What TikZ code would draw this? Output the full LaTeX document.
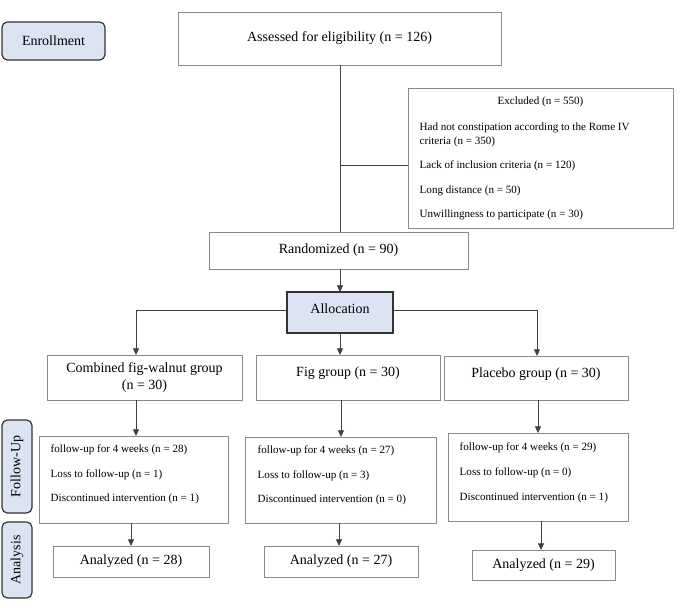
\documentclass[tikz,border=0pt]{standalone}
\usepackage{fontspec}
\setmainfont{Liberation Serif}
\usetikzlibrary{arrows.meta,calc}
\definecolor{lab}{HTML}{DCE3F2}
\definecolor{bd}{HTML}{8A8A8A}
\begin{document}
\begin{tikzpicture}[x=0.75pt,y=-0.75pt,
  box/.style={draw=bd,line width=0.6pt,fill=white,inner sep=0pt},
  side/.style={draw=black!80,line width=0.9pt,rounded corners=4pt,fill=lab,inner sep=0pt},
  big/.style={font=\fontsize{10.5}{13}\selectfont},
  sm/.style={font=\fontsize{8.3}{10}\selectfont,anchor=west},
  ln/.style={draw=black!75,line width=0.6pt},
  ar/.style={ln,-{Triangle[length=5pt,width=4.5pt]}}]
\useasboundingbox (0,0) rectangle (685,607);
% side labels
\draw[side] (2,22) rectangle (105,60);
\node[big] (enr) at (53.5,41) {Enrollment};
\draw[side] (2,420) rectangle (32,513);
\node[big,rotate=90] (fu) at (17,466.5) {Follow-Up};
\draw[side] (2,522) rectangle (32,598);
\node[big,rotate=90] (an) at (17,560) {Analysis};
% top
\draw[box] (178,12) rectangle (501,65);
\node[big] (ass) at (339.5,38.5) {Assessed for eligibility (n = 126)};
\draw[box] (408,88) rectangle (673,228);
\node[sm,anchor=center] (exc) at (540.5,102) {Excluded (n = 550)};
\node[sm,align=left] (e1) at (415,135) {Had not constipation according to the Rome IV\\criteria (n = 350)};
\node[sm] (e2) at (415,166) {Lack of inclusion criteria (n = 120)};
\node[sm] (e3) at (415,191) {Long distance (n = 50)};
\node[sm] (e4) at (415,215) {Unwillingness to participate (n = 30)};
\draw[box] (209,232) rectangle (468,269);
\node[big] (ran) at (338.5,250.5) {Randomized (n = 90)};
\coordinate (a1) at (340,65);
\coordinate (a2) at (340,232);
\coordinate (j) at (340,165);
\coordinate (x1) at (408,165);
\draw[ln] (a1) -- (a2);
\draw[ln] (j) -- (x1);
\draw[fill=lab,draw=black!80,line width=0.9pt] (287,292) rectangle (393,333);
\node[big] (all) at (340,309) {Allocation};
\coordinate (r1) at (340,269);\coordinate (r2) at (340,292);
\draw[ar] (r1) -- (r2);
% groups
\draw[box] (47,355) rectangle (242,400);
\node[big,align=center] (g1) at (144.5,377.5) {Combined fig-walnut group\\(n = 30)};
\draw[box] (256,355) rectangle (440,400);
\node[big] (g2) at (348,373) {Fig group (n = 30)};
\draw[box] (444,356) rectangle (628,400);
\node[big] (g3) at (536,374) {Placebo group (n = 30)};
\coordinate (l1) at (287,310);\coordinate (l2) at (136,310);\coordinate (l3) at (136,355);
\coordinate (m1) at (340,333);\coordinate (m2) at (340,355);
\coordinate (q1) at (393,310);\coordinate (q2) at (537,310);\coordinate (q3) at (537,356);
\draw[ar] (l1) -- (l2) -- (l3);
\draw[ar] (m1) -- (m2);
\draw[ar] (q1) -- (q2) -- (q3);
% follow-up
\draw[box] (39,436) rectangle (228,523);
\node[sm] (f11) at (46,450) {follow-up for 4 weeks (n = 28)};
\node[sm] (f12) at (46,475) {Loss to follow-up (n = 1)};
\node[sm] (f13) at (46,499) {Discontinued intervention (n = 1)};
\draw[box] (245,437) rectangle (436,523);
\node[sm] (f21) at (253,451) {follow-up for 4 weeks (n = 27)};
\node[sm] (f22) at (253,476) {Loss to follow-up (n = 3)};
\node[sm] (f23) at (253,500) {Discontinued intervention (n = 0)};
\draw[box] (448,433) rectangle (628,521);
\node[sm] (f31) at (455,448) {follow-up for 4 weeks (n = 29)};
\node[sm] (f32) at (455,473) {Loss to follow-up (n = 0)};
\node[sm] (f33) at (455,498) {Discontinued intervention (n = 1)};
\coordinate (b1) at (136,400);\coordinate (b2) at (136,436);
\coordinate (c1) at (341,400);\coordinate (c2) at (341,437);
\coordinate (d1) at (538,400);\coordinate (d2) at (538,433);
\draw[ar] (b1) -- (b2);\draw[ar] (c1) -- (c2);\draw[ar] (d1) -- (d2);
% analyzed
\draw[box] (53,546) rectangle (209,577);
\node[big] (z1) at (131,561.5) {Analyzed (n = 28)};
\draw[box] (264,546) rectangle (418,577);
\node[big] (z2) at (341,561.5) {Analyzed (n = 27)};
\draw[box] (472,550) rectangle (615,580);
\node[big] (z3) at (543.5,565) {Analyzed (n = 29)};
\coordinate (h1) at (131,523);\coordinate (h2) at (131,546);
\coordinate (i1) at (339,523);\coordinate (i2) at (339,546);
\coordinate (k1) at (541,521);\coordinate (k2) at (541,550);
\draw[ar] (h1) -- (h2);\draw[ar] (i1) -- (i2);\draw[ar] (k1) -- (k2);
\end{tikzpicture}
\end{document}
